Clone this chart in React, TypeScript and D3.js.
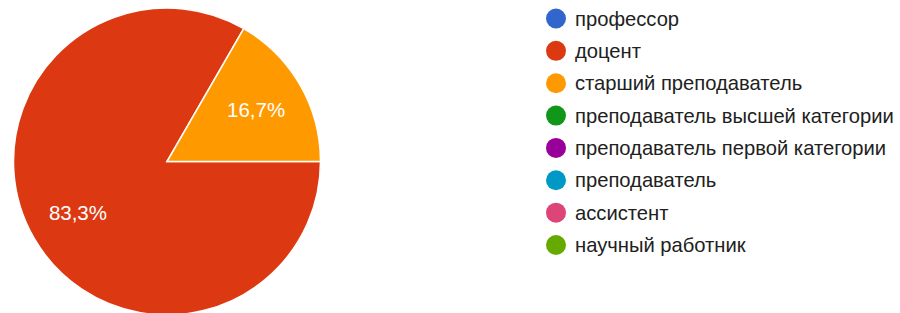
import React from "react";
import * as d3 from "d3";

const categories = [
  "профессор",
  "доцент",
  "старший преподаватель",
  "преподаватель высшей категории",
  "преподаватель первой категории",
  "преподаватель",
  "ассистент",
  "научный работник",
];
const values = [0, 5, 1, 0, 0, 0, 0, 0];
const colors = ["#3366cc", "#dc3912", "#ff9900", "#109618", "#990099", "#0099c6", "#dd4477", "#66aa00"];

const W = 900;
const H = 313;
const cx = 167;
const cy = 161.5;
const R = 153.5;

export default function App() {
  const total = d3.sum(values);
  const pie = d3
    .pie<number>()
    .sort(null)
    .startAngle(Math.PI / 2)
    .endAngle(Math.PI / 2 + 2 * Math.PI)
    .value((d) => d);
  const arcs = pie(values);
  const arc = d3.arc<d3.PieArcDatum<number>>().innerRadius(0).outerRadius(R);
  const labelArc = d3.arc<d3.PieArcDatum<number>>().innerRadius(R * 0.67).outerRadius(R * 0.67);
  const fmt = (v: number) => (Math.round((v / total) * 1000) / 10).toFixed(1).replace(".", ",") + "%";
  const legendY = d3.scalePoint<number>().domain(d3.range(categories.length)).range([18.5, 245]);

  return (
    <svg
      width={W}
      height={H}
      style={{ position: "absolute", left: 0, top: 0, background: "#fff" }}
      fontFamily="Liberation Sans, Arial, sans-serif"
    >
      <g transform={`translate(${cx},${cy})`}>
        {arcs.map((a, i) =>
          a.value > 0 ? (
            <path key={i} d={arc(a) || ""} fill={colors[i]} stroke="#fff" strokeWidth={1.5} />
          ) : null
        )}
        {arcs.map((a, i) => {
          if (a.value <= 0) return null;
          const [x, y] = labelArc.centroid(a);
          return (
            <text key={"l" + i} x={x} y={y} dy="0.35em" textAnchor="middle" fill="#fff" fontSize={20.5}>
              {fmt(a.value)}
            </text>
          );
        })}
      </g>
      <g>
        {categories.map((c, i) => (
          <g key={c} transform={`translate(0,${legendY(i)})`}>
            <circle cx={556} cy={0} r={10} fill={colors[i]} />
            <text x={575} y={0} dy="0.35em" fontSize={20.2} fill="#212121">
              {c}
            </text>
          </g>
        ))}
      </g>
    </svg>
  );
}
